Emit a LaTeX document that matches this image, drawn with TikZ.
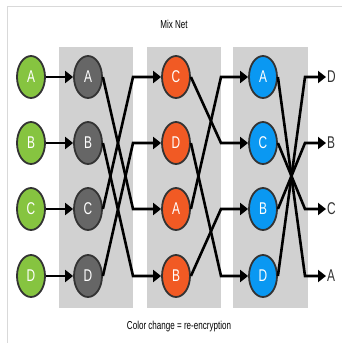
\documentclass[tikz,border=0pt]{standalone}
\usepackage{fontspec}
\setmainfont[FakeStretch=0.7]{Liberation Sans}
\usetikzlibrary{shapes.geometric,arrows.meta}
\definecolor{mixgreen}{HTML}{86C440}
\definecolor{mixdark}{HTML}{666666}
\definecolor{mixorange}{HTML}{F15A24}
\definecolor{mixblue}{HTML}{0A98F2}
\tikzset{
    msg/.style={ellipse, draw=black!80, line width=1.8pt, minimum width=28pt, minimum height=42pt, inner sep=0pt, text=white, font=\fontsize{17}{17}\selectfont},
    hop/.style={-{Triangle[length=8pt,width=12pt]}, line width=2.6pt},
    panel/.style={fill=black!18},
    outlbl/.style={anchor=west, inner sep=1pt, text=black!80, font=\fontsize{17}{17}\selectfont},
}
\begin{document}
\begin{tikzpicture}[x=1pt,y=-1pt]
    \useasboundingbox (0,0) rectangle (342,343);
    \draw[black!15, line width=1pt] (7,343) -- (7,6) -- (342,6);
    \node[font=\fontsize{11.5}{11.5}\selectfont] (title) at (174,24) {Mix Net};
    \node[font=\fontsize{11.5}{11.5}\selectfont] (note) at (179,327) {Color change = re-encryption};
    \fill[panel] (59,47) rectangle (133,308);
    \fill[panel] (147,47) rectangle (221,308);
    \fill[panel] (233,47) rectangle (308,308);
    \coordinate (k1) at (133,0);
    \coordinate (k2) at (221,0);
    \coordinate (k3) at (305,0);
    \foreach \l/\y in {A/77,B/143,C/209,D/276} {
        \node[msg, fill=mixgreen] (g\l) at (31,\y) {\l};
        \node[msg, fill=mixdark] (d\l) at (88,\y) {\l};
        \draw[hop] (g\l) -- (d\l);
    }
    \foreach \l/\y in {C/77,D/143,A/209,B/276}
        \node[msg, fill=mixorange] (o\l) at (176,\y) {\l};
    \foreach \l/\y in {A/77,C/143,B/209,D/276}
        \node[msg, fill=mixblue] (b\l) at (263,\y) {\l};
    \foreach \l/\y in {D/77,B/143,C/209,A/276}
        \node[outlbl] (x\l) at (326,\y) {\l};
    \foreach \l in {A,B,C,D} {
        \draw[hop] (d\l.east) -- (k1 |- o\l) -- (o\l.west);
        \draw[hop] (o\l.east) -- (k2 |- b\l) -- (b\l.west);
        \draw[hop] (b\l.east) -- (k3 |- x\l) -- (x\l.west);
    }
\end{tikzpicture}
\end{document}
